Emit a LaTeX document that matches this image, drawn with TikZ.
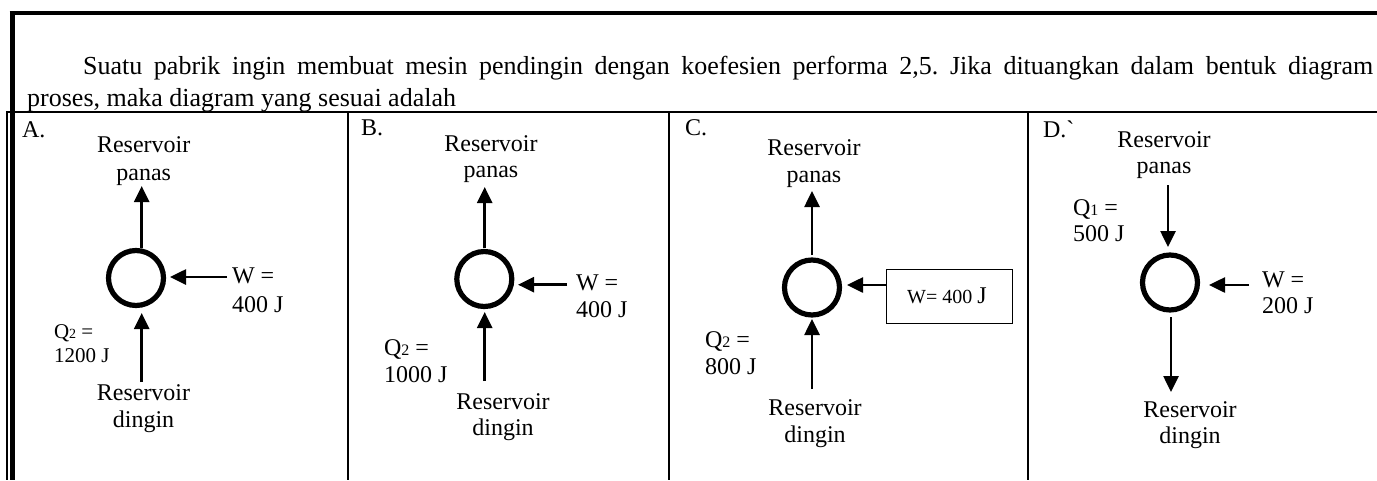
\documentclass[tikz,border=0pt]{standalone}
\usepackage{fontspec}
\setmainfont{Liberation Serif}
\usetikzlibrary{arrows.meta}
\newcommand\fsmain{\fontsize{26}{30}\selectfont}
\newcommand\fslab{\fontsize{24}{27}\selectfont}
\newcommand\subtwo{{\fontsize{16}{16}\selectfont 2}}
\newcommand\subone{{\fontsize{16}{16}\selectfont 1}}
\newcommand\twolines[3]{\fontsize{24}{#1}\selectfont\begin{tabular}[t]{@{}#2@{}}#3\end{tabular}}
\frenchspacing
\begin{document}
\begin{tikzpicture}[x=1pt,y=-1pt,
  lbl/.style={inner sep=0pt, outer sep=0pt, font=\fslab},
  engine/.style={circle, draw, line width=5.2pt, minimum size=55pt, inner sep=0pt},
  arr/.style={line width=2.6pt, -{Triangle[length=16pt,width=15pt]}},
  frame/.style={line width=2pt}]
\useasboundingbox (0,0) rectangle (1377,480);
% frame
\draw[line width=4pt] (9.5,13) -- (1377,13);
\draw[line width=5pt] (12.5,11) -- (12.5,480);
\draw[line width=1.7pt] (7.2,112) -- (7.2,480);
\draw[frame] (6.3,112) -- (1377,112);
\draw[frame] (348.3,112) -- (348.3,480);
\draw[frame] (669,112) -- (669,480);
\draw[frame] (1028,112) -- (1028,480);
% question text
\node[inner sep=0pt, anchor=base west, font=\fsmain] (q1) at (83,74)
  {\makebox[1290pt][s]{Suatu pabrik ingin membuat mesin pendingin dengan koefesien performa 2,5. Jika dituangkan dalam bentuk diagram}};
\node[inner sep=0pt, anchor=base west, font=\fsmain] (q2) at (27,106)
  {proses, maka diagram yang sesuai adalah};

% ---------- Panel A ----------
\node[lbl, anchor=base west] (labA) at (22,137) {A.};
\node[engine] (cA) at (136,278) {};
\node[lbl, anchor=base] (hotA) at (143.7,152) {\twolines{28}{c}{Reservoir\\panas}};
\node[lbl, anchor=base] (coldA) at (143.5,400) {\twolines{27}{c}{Reservoir\\dingin}};
\node[lbl, anchor=base west] (wA) at (232,283) {\twolines{29}{l}{W =\\400 J}};
\node[lbl, anchor=base west] (qA) at (54,338) {\fontsize{21}{24}\selectfont\begin{tabular}[t]{@{}l@{}}Q{\fontsize{14}{14}\selectfont 2} =\\1200 J\end{tabular}};
\coordinate (a1) at (141.7,248); \coordinate (a2) at (141.7,186);
\coordinate (a3) at (141.7,382); \coordinate (a4) at (141.7,313);
\coordinate (a5) at (227,277);   \coordinate (a6) at (170,277);
\draw[arr] (a1) -- (a2);
\draw[arr] (a3) -- (a4);
\draw[arr] (a5) -- (a6);

% ---------- Panel B ----------
\node[lbl, anchor=base west] (labB) at (361,135) {B.};
\node[engine] (cB) at (484.3,279) {};
\node[lbl, anchor=base] (hotB) at (491,151) {\twolines{26}{c}{Reservoir\\panas}};
\node[lbl, anchor=base] (coldB) at (503,409) {\twolines{26}{c}{Reservoir\\dingin}};
\node[lbl, anchor=base west] (wB) at (576,290) {\twolines{27}{l}{W =\\400 J}};
\node[lbl, anchor=base west] (qB) at (384,355) {\twolines{27}{l}{Q\subtwo{} =\\1000 J}};
\coordinate (b1) at (484.7,248); \coordinate (b2) at (484.7,187);
\coordinate (b3) at (484.7,381); \coordinate (b4) at (484.7,312);
\coordinate (b5) at (567,284.7); \coordinate (b6) at (518,284.7);
\draw[arr] (b1) -- (b2);
\draw[arr] (b3) -- (b4);
\draw[arr] (b5) -- (b6);

% ---------- Panel C ----------
\node[lbl, anchor=base west] (labC) at (685,135) {C.};
\node[engine] (cC) at (812,287.5) {};
\node[lbl, anchor=base] (hotC) at (814,155) {\twolines{27}{c}{Reservoir\\panas}};
\node[lbl, anchor=base] (coldC) at (815,415) {\twolines{27}{c}{Reservoir\\dingin}};
\node[lbl, anchor=base west] (qC) at (705,347) {\twolines{27}{l}{Q\subtwo{} =\\800 J}};
\node[draw, line width=1.3pt, minimum width=126pt, minimum height=54pt, inner sep=0pt]
  (wC) at (949.7,296.5) {};
\node[inner sep=0pt, anchor=base west, font=\fontsize{20}{24}\selectfont] (wCt) at (907,303) {W= 400 {\fontsize{24}{24}\selectfont J}};
\coordinate (c1) at (812,255); \coordinate (c2) at (812,191);
\coordinate (c3) at (812,389); \coordinate (c4) at (812,319);
\coordinate (c5) at (886.7,285); \coordinate (c6) at (847,285);
\draw[arr] (c1) -- (c2);
\draw[arr] (c3) -- (c4);
\draw[arr] (c5) -- (c6);

% ---------- Panel D ----------
\node[lbl, anchor=base west] (labD) at (1043,137) {D.\textasciigrave};
\node[engine] (cD) at (1170,282.5) {};
\node[lbl, anchor=base] (hotD) at (1164,147) {\twolines{26}{c}{Reservoir\\panas}};
\node[lbl, anchor=base] (coldD) at (1190,417) {\twolines{26}{c}{Reservoir\\dingin}};
\node[lbl, anchor=base west] (qD) at (1073,215) {\twolines{26}{l}{Q\subone{} =\\500 J}};
\node[lbl, anchor=base west] (wD) at (1262,287) {\twolines{26}{l}{W =\\200 J}};
\coordinate (d1) at (1168,185); \coordinate (d2) at (1168,247);
\coordinate (d3) at (1171,317); \coordinate (d4) at (1171,392);
\coordinate (d5) at (1249,285); \coordinate (d6) at (1209,285);
\draw[arr] (d1) -- (d2);
\draw[arr] (d3) -- (d4);
\draw[arr] (d5) -- (d6);
\end{tikzpicture}
\end{document}
